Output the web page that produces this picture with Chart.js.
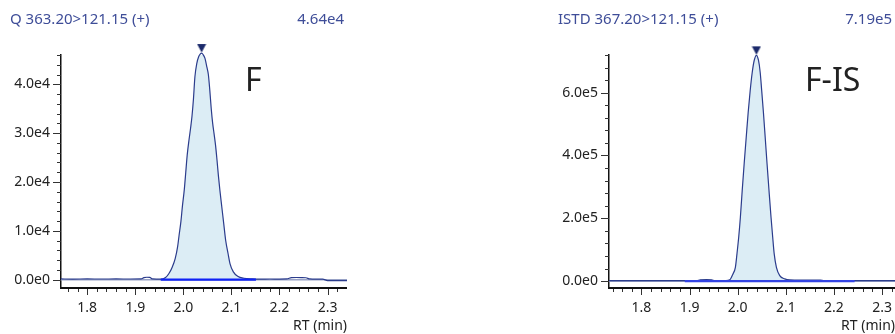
<!DOCTYPE html>
<html>
<head>
<meta charset="utf-8">
<script src="https://cdn.jsdelivr.net/npm/chart.js@4.4.1/dist/chart.umd.min.js"></script>
<style>
    html, body { margin: 0; padding: 0; background: #fff; }
    body { width: 895px; height: 334px; position: relative; overflow: hidden; }
    .panel { position: absolute; top: 0; width: 347px; height: 334px; }
</style>
</head>
<body>
<div class="panel" style="left:0"><canvas id="grafica-f" width="347" height="334"></canvas></div>
<div class="panel" style="left:548px"><canvas id="grafica-is" width="347" height="334"></canvas></div>
<script>
// Cromatograma F (Q 363.20>121.15)
const tiempoF = [1.745, 1.77, 1.80, 1.83, 1.86, 1.89, 1.912, 1.918, 1.924, 1.930, 1.936, 1.945,
    1.953, 1.963, 1.970, 1.977, 1.983, 1.988, 1.991, 1.995, 1.998, 2.002, 2.005, 2.008,
    2.012, 2.015, 2.018, 2.021, 2.024, 2.028, 2.032, 2.035, 2.038, 2.041, 2.045, 2.049,
    2.052, 2.055, 2.058, 2.061, 2.064, 2.067, 2.070, 2.073, 2.076, 2.080, 2.084, 2.088,
    2.093, 2.097, 2.104, 2.113, 2.126, 2.144, 2.16, 2.18, 2.20, 2.215, 2.225, 2.235,
    2.245, 2.255, 2.263, 2.27, 2.28, 2.29, 2.30, 2.31, 2.325, 2.341];
const intensidadF = [150, 130, 150, 140, 150, 140, 150, 420, 500, 480, 150, 120,
    100, 450, 1270, 2620, 4330, 6710, 9000, 12000, 15000, 18500, 22000, 25500,
    28800, 31000, 33500, 37000, 41500, 44300, 45700, 46200, 46400, 46100, 45300, 43500,
    42000, 38800, 35000, 32000, 29800, 27500, 24500, 21200, 18300, 14890, 11490, 8080,
    5360, 3310, 1600, 720, 300, 160, 120, 140, 130, 150, 420, 450,
    440, 400, 150, 120, 100, 100, -180, -200, -200, -200];
const integracionF = [1.953, 2.151];

// Cromatograma F-IS (ISTD 367.20>121.15)
const tiempoIS = [1.7325, 1.76, 1.79, 1.82, 1.85, 1.88, 1.90, 1.915, 1.922, 1.935, 1.946, 1.952,
    1.965, 1.975, 1.9834, 1.9902, 1.9952, 1.9985, 2.0021, 2.0056, 2.0094, 2.0135, 2.0177, 2.0218,
    2.026, 2.0302, 2.0343, 2.0389, 2.0433, 2.0468, 2.0499, 2.0535, 2.0572, 2.061, 2.0651, 2.0693,
    2.0728, 2.0759, 2.0805, 2.0874, 2.0978, 2.1082, 2.12, 2.14, 2.16, 2.172, 2.18, 2.20,
    2.23, 2.26, 2.29, 2.327];
const intensidadIS = [1500, 1200, 1500, 1300, 1500, 1400, 1500, 1500, 4000, 4500, 4000, 1500,
    1200, 1500, 3800, 22900, 44000, 86700, 139500, 203300, 288300, 374400, 457200, 536800,
    606900, 664300, 702500, 719000, 702500, 664300, 606900, 536800, 457200, 374400, 288300, 203300,
    139500, 86700, 44000, 17500, 7000, 3800, 3500, 3200, 3500, 3000, 1500, 1300,
    1500, 1400, 1500, 1300];
const integracionIS = [1.89, 2.243];

// Etiquetas de los ejes
const etiquetasX = [1.8, 1.9, 2.0, 2.1, 2.2, 2.3];
const etiquetasYF = [0, 10000, 20000, 30000, 40000];
const etiquetasYIS = [0, 200000, 400000, 600000];

function formatoExp(v, dec) {
    if (v === 0) return (0).toFixed(dec) + 'e0';
    const e = Math.floor(Math.log10(Math.abs(v)));
    return (v / Math.pow(10, e)).toFixed(dec) + 'e' + e;
}

function marcaPico() {
    const c = document.createElement('canvas');
    c.width = 10;
    c.height = 20;
    const g = c.getContext('2d');
    g.fillStyle = '#1b2a6b';
    g.beginPath();
    g.moveTo(0.5, 1);
    g.lineTo(9.5, 1);
    g.lineTo(5, 9.5);
    g.closePath();
    g.fill();
    return c;
}

// marcas de los ejes y textos
const marcasYTextos = {
    id: 'marcasYTextos',
    afterDraw(chart, args, opts) {
        const { ctx, chartArea } = chart;
        const x = chart.scales.x;
        const y = chart.scales.y;
        ctx.save();
        ctx.strokeStyle = '#333';
        ctx.lineWidth = 1;
        ctx.beginPath();
        x.ticks.forEach(t => {
            const px = Math.round(x.getPixelForValue(t.value)) + 0.5;
            const largo = t.label ? 6 : 3;
            ctx.moveTo(px, chartArea.bottom + 1);
            ctx.lineTo(px, chartArea.bottom + 1 + largo);
        });
        y.ticks.forEach(t => {
            const py = Math.round(y.getPixelForValue(t.value)) + 0.5;
            const largo = t.label ? 8 : 4;
            ctx.moveTo(chartArea.left - largo, py);
            ctx.lineTo(chartArea.left, py);
        });
        ctx.stroke();

        ctx.font = '15px "Noto Sans"';
        ctx.fillStyle = '#3e4d98';
        ctx.textBaseline = 'middle';
        ctx.textAlign = 'left';
        ctx.fillText(opts.titulo, 10, 20);
        ctx.textAlign = 'right';
        ctx.fillText(opts.maximo, chart.width - 3, 20);

        ctx.font = '32px "Noto Sans"';
        ctx.fillStyle = '#222';
        ctx.textAlign = 'left';
        ctx.fillText(opts.nombre, opts.nombreX, opts.nombreY);
        ctx.restore();
    }
};

function crearGrafica(id, cfg) {
    const puntos = cfg.tiempo.map((t, i) => ({ x: t, y: cfg.intensidad[i] }));
    const area = puntos.filter(p => p.x >= cfg.integracion[0] && p.x <= cfg.integracion[1]);
    const maximo = Math.max(...cfg.intensidad);
    const pico = puntos[cfg.intensidad.indexOf(maximo)];

    const grafica = document.querySelector(id);
    new Chart(grafica.getContext('2d'), {
        type: 'line',
        data: {
            datasets: [
                {
                    data: [pico],
                    showLine: false,
                    pointStyle: marcaPico(),
                    pointRadius: 5,
                    clip: false,
                    order: 0
                },
                {
                    data: cfg.integracion.map(t => ({ x: t, y: 0 })),
                    borderColor: cfg.colorIntegracion,
                    borderWidth: 2.2,
                    pointRadius: 0,
                    order: 1
                },
                {
                    data: puntos,
                    borderColor: '#2b3c8c',
                    borderWidth: 1.2,
                    pointRadius: 0,
                    cubicInterpolationMode: 'monotone',
                    clip: false,
                    order: 2
                },
                {
                    data: [{ x: cfg.xMin, y: 0 }, { x: cfg.xMax, y: 0 }],
                    borderColor: '#98a2c6',
                    borderWidth: 1.6,
                    pointRadius: 0,
                    order: 3
                },
                {
                    data: area,
                    borderWidth: 0,
                    pointRadius: 0,
                    backgroundColor: '#dcedf5',
                    fill: 'origin',
                    cubicInterpolationMode: 'monotone',
                    clip: false,
                    order: 4
                }
            ]
        },
        options: {
            responsive: false,
            animation: false,
            devicePixelRatio: 1,
            // sin relleno automatico por el marcador del pico
            layout: { autoPadding: false, padding: { top: 55, left: 0, right: 0, bottom: 0 } },
            scales: {
                x: {
                    type: 'linear',
                    min: cfg.xMin,
                    max: cfg.xMax,
                    afterFit: s => { s.height = 46; },
                    // el largo de marca solo separa las etiquetas; las marcas las dibuja el plugin
                    grid: { display: false, drawTicks: true, tickLength: 12 },
                    border: { display: true, color: '#111', width: 2 },
                    ticks: {
                        stepSize: 0.02,
                        includeBounds: false,
                        autoSkip: false,
                        maxRotation: 0,
                        padding: 0,
                        color: '#222',
                        font: { family: 'Noto Sans', size: 14 },
                        callback: v => etiquetasX.some(t => Math.abs(t - v) < 1e-6) ? v.toFixed(1) : ''
                    },
                    title: {
                        display: true,
                        text: 'RT (min)',
                        align: 'end',
                        color: '#222',
                        font: { family: 'Noto Sans', size: 14 },
                        padding: { top: 0, bottom: 0 }
                    }
                },
                y: {
                    min: cfg.yMin,
                    max: cfg.yMax,
                    afterFit: s => { s.width = 61; },
                    // marcas menores cada pasoY, desde el 0 hacia arriba
                    afterBuildTicks: s => {
                        const marcas = [];
                        for (let v = 0; v <= cfg.yMax + 1e-9; v += cfg.pasoY) marcas.push({ value: v });
                        s.ticks = marcas;
                    },
                    grid: { display: false, drawTicks: true, tickLength: 11 },
                    border: { display: true, color: '#111', width: 1.5 },
                    ticks: {
                        autoSkip: false,
                        padding: 0,
                        color: '#222',
                        font: { family: 'Noto Sans', size: 14 },
                        callback: v => cfg.etiquetasY.some(t => Math.abs(t - v) < 1e-6) ? formatoExp(v, 1) : ''
                    }
                }
            },
            plugins: {
                legend: { display: false },
                tooltip: { enabled: false },
                marcasYTextos: {
                    titulo: cfg.titulo,
                    maximo: formatoExp(maximo, 2),
                    nombre: cfg.nombre,
                    nombreX: cfg.nombreX,
                    nombreY: 82
                }
            }
        },
        plugins: [marcasYTextos]
    });
}

crearGrafica('#grafica-f', {
    tiempo: tiempoF,
    intensidad: intensidadF,
    integracion: integracionF,
    etiquetasY: etiquetasYF,
    colorIntegracion: '#0f22f5',
    xMin: 1.7454, xMax: 2.3405,
    yMin: -1700, yMax: 46000, pasoY: 2000,
    titulo: 'Q 363.20>121.15 (+)',
    nombre: 'F',
    nombreX: 245
});

crearGrafica('#grafica-is', {
    tiempo: tiempoIS,
    intensidad: intensidadIS,
    integracion: integracionIS,
    etiquetasY: etiquetasYIS,
    colorIntegracion: '#3444e4',
    xMin: 1.7325, xMax: 2.327,
    yMin: -22000, yMax: 720000, pasoY: 40000,
    titulo: 'ISTD 367.20>121.15 (+)',
    nombre: 'F-IS',
    nombreX: 257
});
</script>
</body>
</html>
